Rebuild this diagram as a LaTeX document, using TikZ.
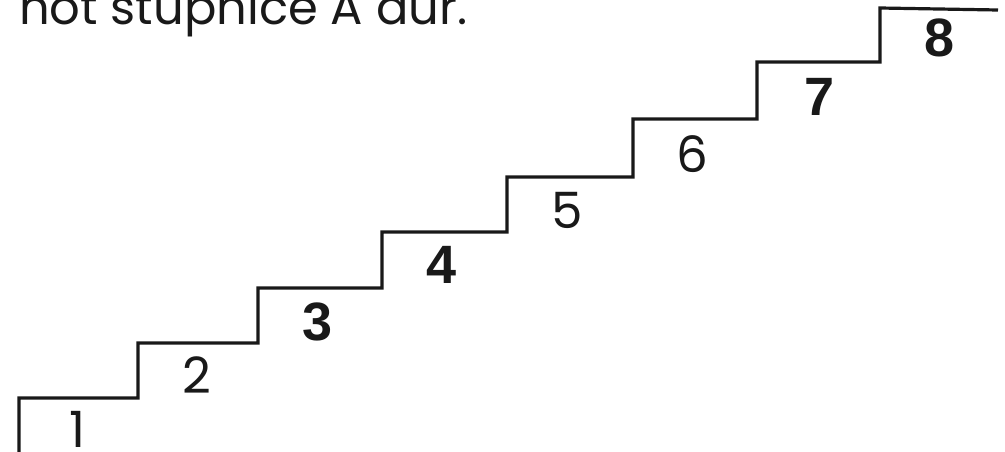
\documentclass[tikz,border=0pt]{standalone}
\usepackage{fontspec}
\setmainfont{Poppins}
\newfontfamily\boldnum{Liberation Sans}
\begin{document}
\begin{tikzpicture}[x=1pt,y=-1pt,
  stair/.style={line width=3.2pt,line join=miter,draw=black!90},
  regnum/.style={inner sep=0pt,anchor=base,font=\fontsize{50}{50}\selectfont,text=black!90},
  boldlab/.style={inner sep=0pt,anchor=base,font=\boldnum\bfseries\fontsize{54}{54}\selectfont,text=black!90},
  title/.style={inner sep=0pt,anchor=base west,font=\fontsize{48}{48}\selectfont,text=black!90}]
\useasboundingbox (0,0) rectangle (1005,452);
\clip (0,0) rectangle (1005,452);
\fill[white] (0,0) rectangle (1005,452);
\draw[stair] (19,460) -- (19,398) -- (138,398) -- (138,343) -- (258,343) -- (258,288)
  -- (382,288) -- (382,232) -- (507,232) -- (507,177) -- (633,177) -- (633,119)
  -- (757,119) -- (757,62) -- (880,62) -- (880,8) -- (998,10);
\node[title] (t) at (19,25) {not stupnice A dur.};
\node[regnum] (n1) at (77,447) {1};
\node[regnum] (n2) at (197,393) {2};
\node[boldlab] (n3) at (318,340) {3};
\node[boldlab] (n4) at (442,283) {4};
\node[regnum] (n5) at (567,228) {5};
\node[regnum] (n6) at (692,172) {6};
\node[boldlab] (n7) at (820,115) {7};
\node[boldlab] (n8) at (940,57) {8};
\end{tikzpicture}
\end{document}
